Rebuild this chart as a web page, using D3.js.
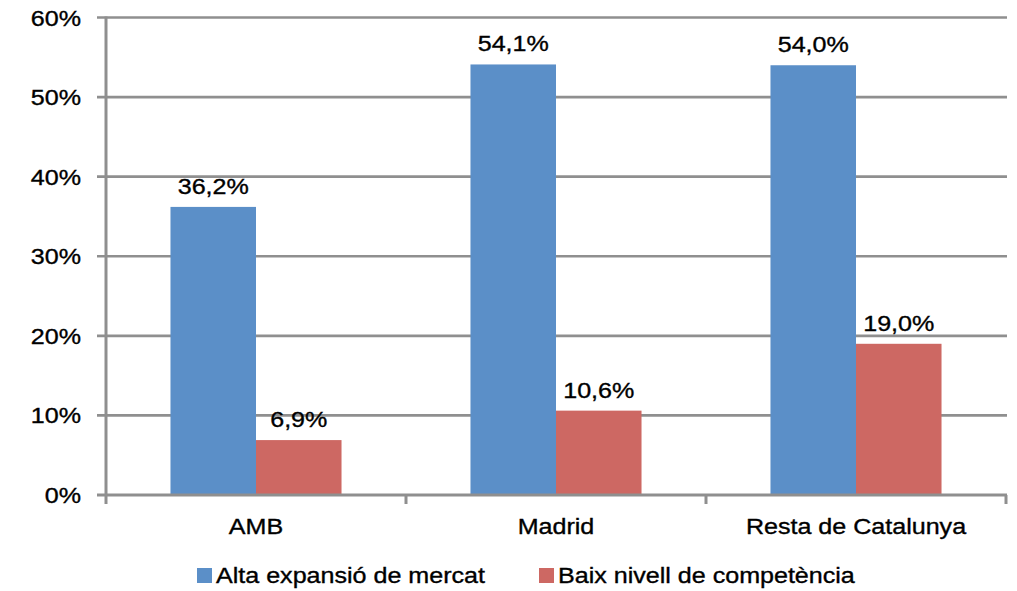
<!DOCTYPE html>
<html><head><meta charset="utf-8">
<script src="https://cdn.jsdelivr.net/npm/d3@7"></script>
<style>body{margin:0;background:#fff}svg{display:block}text{font-family:"Liberation Sans",Arial,sans-serif;fill:#000;stroke:#000;stroke-width:0.35px}</style>
</head><body><svg id="c" width="1017" height="591"></svg>
<script>
const categories = ["AMB", "Madrid", "Resta de Catalunya"];
const seriesNames = ["Alta expansió de mercat", "Baix nivell de competència"];
const altaExpansio = [36.2, 54.1, 54.0];
const baixNivell = [6.9, 10.6, 19.0];
const yTicks = [0, 10, 20, 30, 40, 50, 60];
const colors = ["#5B8FC8", "#CD6863"];

(function () {
const svg = d3.select("#c");
const SX = 1.14, FS = 22;
const pLeft = 106, pRight = 1006, pTop = 17.5, pBottom = 495;
const y = d3.scaleLinear().domain([0, 60]).range([pBottom, pTop]);
const x0 = d3.scaleBand().domain(categories).range([pLeft, pRight]).padding(0);
const x1 = d3.scaleBand().domain(seriesNames).range([0, x0.bandwidth()]).paddingInner(0).paddingOuter(0.754);
const fmt = v => d3.format(".1f")(v).replace(".", ",") + "%";
const grid = "#8F8F8F";

// gridlines
svg.append("g").selectAll("line").data(yTicks.filter(d => d > 0)).join("line")
  .attr("x1", pLeft - 9).attr("x2", pRight + 1)
  .attr("y1", d => y(d)).attr("y2", d => y(d))
  .attr("stroke", grid).attr("stroke-width", 2.6);

const data = categories.map((c, i) => ({cat: c, vals: [altaExpansio[i], baixNivell[i]]}));
const groups = svg.append("g").selectAll("g").data(data).join("g")
  .attr("transform", d => `translate(${x0(d.cat)},0)`);
groups.selectAll("rect").data(d => d.vals.map((v, j) => ({v, s: seriesNames[j], j}))).join("rect")
  .attr("x", d => x1(d.s)).attr("width", x1.bandwidth())
  .attr("y", d => y(d.v)).attr("height", d => y(0) - y(d.v))
  .attr("fill", d => colors[d.j]);
groups.selectAll("text").data(d => d.vals.map((v, j) => ({v, s: seriesNames[j], j}))).join("text")
  .attr("transform", d => `translate(${x1(d.s) + x1.bandwidth() / 2},${y(d.v) - 13}) scale(${SX},1)`)
  .attr("text-anchor", "middle").attr("font-size", FS)
  .text(d => fmt(d.v));

// y axis
svg.append("line").attr("x1", pLeft).attr("x2", pLeft).attr("y1", pTop - 1).attr("y2", pBottom + 1)
  .attr("stroke", grid).attr("stroke-width", 3);
svg.append("line").attr("x1", pLeft - 9).attr("x2", pRight + 1).attr("y1", y(0)).attr("y2", y(0))
  .attr("stroke", grid).attr("stroke-width", 3);
svg.append("g").selectAll("text").data(yTicks).join("text")
  .attr("transform", d => `translate(81,${y(d) + 8}) scale(${SX},1)`)
  .attr("text-anchor", "end").attr("font-size", FS)
  .text(d => d + "%");

// x ticks
const xt = [pLeft, ...categories.map(c => x0(c) + x0.bandwidth())];
svg.append("g").selectAll("line").data(xt).join("line")
  .attr("x1", d => d).attr("x2", d => d).attr("y1", pBottom).attr("y2", pBottom + 9)
  .attr("stroke", grid).attr("stroke-width", 3);
svg.append("g").selectAll("text").data(categories).join("text")
  .attr("transform", d => `translate(${x0(d) + x0.bandwidth() / 2},534) scale(${SX},1)`)
  .attr("text-anchor", "middle").attr("font-size", FS)
  .text(d => d);

// legend
const legX = [197, 539];
const leg = svg.append("g").selectAll("g").data(seriesNames).join("g")
  .attr("transform", (d, i) => `translate(${legX[i]},0)`);
leg.append("rect").attr("x", 0).attr("y", 568).attr("width", 15).attr("height", 15)
  .attr("fill", (d, i) => colors[i]);
leg.append("text").attr("transform", `translate(19,583) scale(${SX},1)`)
  .attr("font-size", FS).text(d => d);
})();
</script></body></html>
